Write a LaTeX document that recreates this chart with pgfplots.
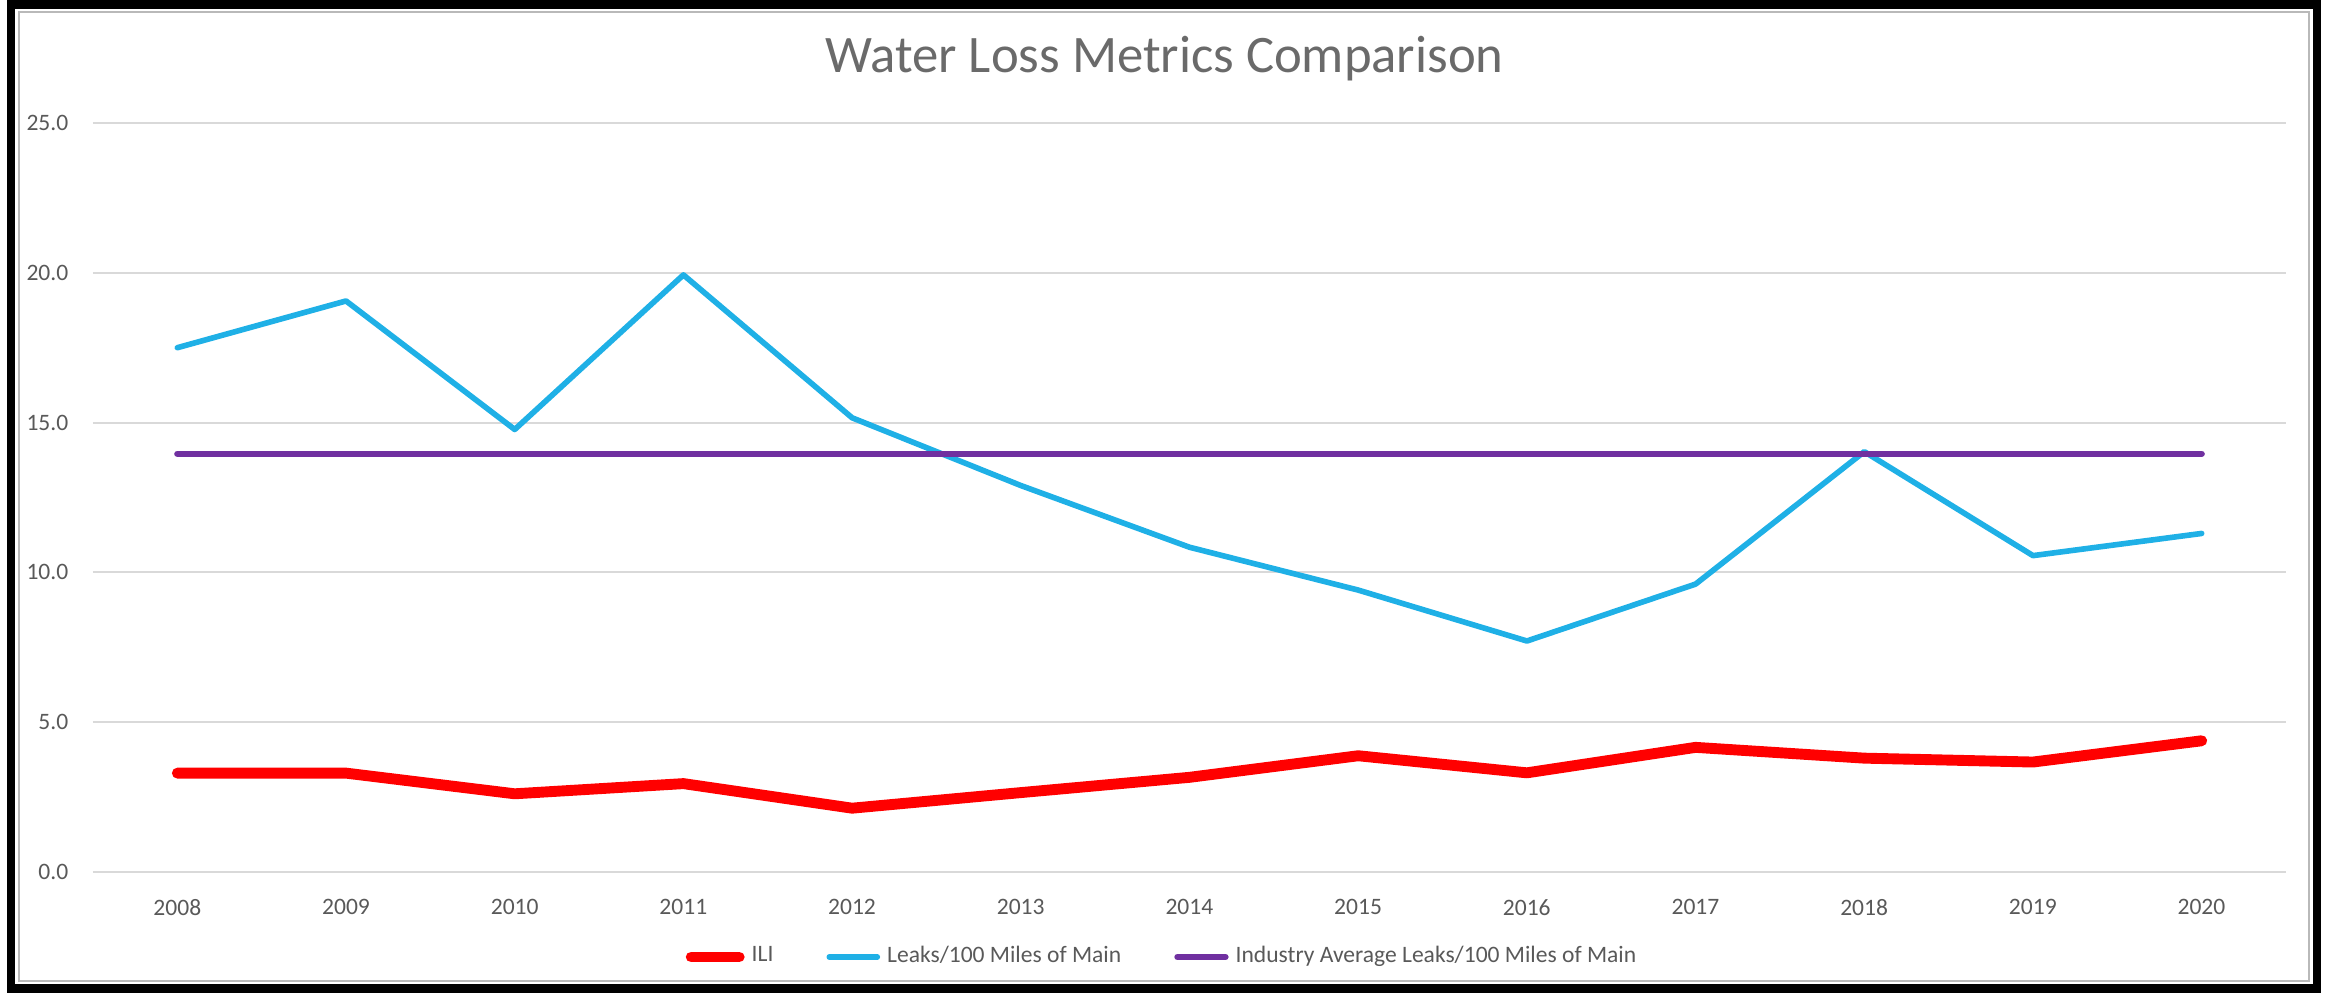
\documentclass[border=0pt]{standalone}
\usepackage{fontspec}
\setmainfont{Carlito}
\usepackage{pgfplots}
\usepackage{pgfplotstable}
\pgfplotsset{compat=1.18}

\definecolor{ili}{HTML}{FF0000}
\definecolor{leaks}{HTML}{1FB0E6}
\definecolor{industry}{HTML}{7030A0}
\definecolor{gridgray}{HTML}{D9D9D9}
\definecolor{txtgray}{HTML}{595959}

\pgfplotstableread{
year ili  leaks industry
2008 3.30 17.50 13.96
2009 3.30 19.06 13.96
2010 2.61 14.77 13.96
2011 2.95 19.93 13.96
2012 2.13 15.16 13.96
2013 2.65 12.90 13.96
2014 3.16 10.84 13.96
2015 3.88  9.41 13.96
2016 3.31  7.71 13.96
2017 4.16  9.61 13.96
2018 3.80 14.03 13.96
2019 3.67 10.56 13.96
2020 4.38 11.30 13.96
}\losstable

\newcommand{\gap}{\rule{0.46cm}{0pt}}

\begin{document}
\begin{tikzpicture}
\useasboundingbox (0,0) rectangle (23.3,9.93);
% outer frame
\draw[line width=0.85mm] (0.11,0.045) rectangle (23.17,9.885);
\draw[gray!55, line width=0.25mm] (0.19,0.12) rectangle (23.09,9.81);
% title
\node[anchor=base, text=txtgray!90, font=\fontsize{15}{18}\selectfont] at (11.645,9.20) {Water Loss Metrics Comparison};
\begin{axis}[
  at={(0.93cm,1.21cm)}, anchor=south west,
  scale only axis, width=21.93cm, height=7.49cm,
  xmin=2007.5, xmax=2020.5, ymin=0, ymax=25,
  xtick={2008,2009,...,2020}, ytick={0,5,...,25},
  axis line style={draw=none},
  major tick length=0pt,
  ymajorgrids, grid style={gridgray, line width=0.6pt},
  /pgf/number format/assume math mode=true,
  tick label style={font=\fontsize{6.7}{8}\selectfont, text=txtgray},
  xticklabel style={/pgf/number format/1000 sep={}, anchor=north, inner sep=0pt, yshift=-0.265cm},
  yticklabel style={/pgf/number format/.cd, fixed, fixed zerofill, precision=1, /tikz/.cd, anchor=east, inner sep=0pt, xshift=-0.24cm},
  legend columns=3,
  legend style={at={(0.4886,-0.1135)}, anchor=center, draw=none, fill=none,
    font=\fontsize{6.7}{8}\selectfont, text=txtgray},
  legend image code/.code={\draw[#1] (0cm,0cm) -- (0.48cm,0cm);},
]
\addplot[ili, line width=3.1pt, line cap=round, line join=round] table[x=year, y=ili] {\losstable};
\addlegendentry{ILI\gap}
\addplot[leaks, line width=1.6pt, line cap=round, line join=round] table[x=year, y=leaks] {\losstable};
\addlegendentry{Leaks/100 Miles of Main\gap}
\addplot[industry, line width=1.8pt, line cap=round, line join=round] table[x=year, y=industry] {\losstable};
\addlegendentry{Industry Average Leaks/100 Miles of Main}
\end{axis}
\end{tikzpicture}
\end{document}
